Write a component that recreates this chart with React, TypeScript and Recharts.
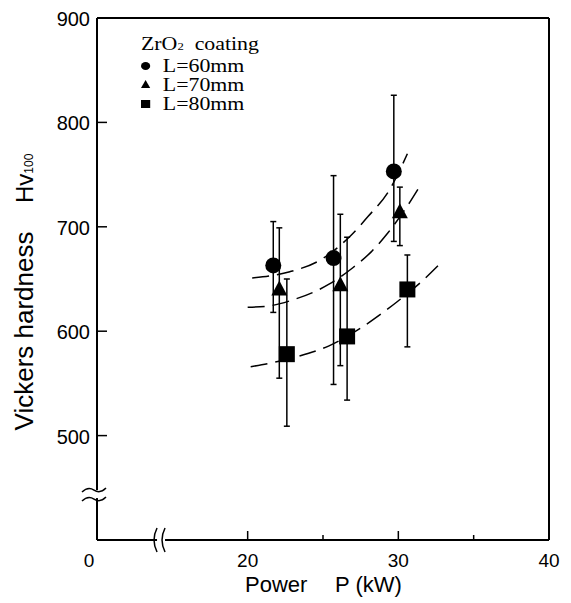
import React from 'react';
import {
  ComposedChart,
  Scatter,
  Line,
  XAxis,
  YAxis,
  ErrorBar,
  ReferenceLine,
  ReferenceDot,
} from 'recharts';

// measured points (power kW, hardness Hv100) with error bar ends
const power60 = [21.7, 25.7, 29.7];
const hv60 = [663, 670, 753];
const low60 = [618, 549, 686];
const high60 = [705, 749, 826];

const power70 = [22.1, 26.15, 30.1];
const hv70 = [640, 644, 714];
const low70 = [555, 567, 682];
const high70 = [699, 712, 738];

const power80 = [22.6, 26.6, 30.6];
const hv80 = [578, 595, 640];
const low80 = [509, 534, 585];
const high80 = [650, 690, 673];

// dashed fitted curves
const curve60X = [20.3, 21.5, 22.8, 24.8, 26.8, 28.0, 29.4, 30.6];
const curve60Y = [651, 653, 657, 668, 691, 710, 735, 770];
const curve70X = [20.0, 21.3, 23.0, 25.4, 27.0, 28.2, 29.3, 30.6, 31.3];
const curve70Y = [623, 624, 630, 645, 661, 676, 694, 720, 736];
const curve80X = [20.2, 21.7, 23.4, 25.4, 27.5, 29.9, 31.5, 33.0];
const curve80Y = [566, 570, 576, 586, 603, 628, 647, 668];

const xTicks = [10, 20, 25, 30, 35, 40];
const xTickLabels: Record<number, string> = { 10: '0', 20: '20', 30: '30', 40: '40' };
const yTicks = [500, 600, 700, 800, 900];
const legendNames = ['L=60mm', 'L=70mm', 'L=80mm'];

const toPoints = (xs: number[], ys: number[], lo: number[], hi: number[]) =>
  xs.map((x, i) => ({ x, y: ys[i], err: [ys[i] - lo[i], hi[i] - ys[i]] }));
const toCurve = (xs: number[], ys: number[]) => xs.map((x, i) => ({ x, y: ys[i] }));

const pts60 = toPoints(power60, hv60, low60, high60);
const pts70 = toPoints(power70, hv70, low70, high70);
const pts80 = toPoints(power80, hv80, low80, high80);

const SANS = '"Liberation Sans", Arial, sans-serif';
const SERIF = '"Liberation Serif", "Times New Roman", serif';

const Circle = (p: any) => <circle cx={p.cx} cy={p.cy} r={8} fill="#000" />;
const Triangle = (p: any) => (
  <path d={`M${p.cx},${p.cy - 9} L${p.cx + 8},${p.cy + 6} L${p.cx - 8},${p.cy + 6} Z`} fill="#000" />
);
const Square = (p: any) => <rect x={p.cx - 8} y={p.cy - 8} width={16} height={16} fill="#000" />;

const XTick = (props: any) => {
  const { x, y, payload } = props;
  const v = payload.value;
  const len = v === 25 || v === 35 ? 5 : 9;
  return (
    <g>
      {v !== 10 && v !== 40 && <line x1={x} y1={y} x2={x} y2={y - len} stroke="#000" strokeWidth={1.5} />}
      {xTickLabels[v] && (
        <text x={v === 10 ? x - 8 : x} y={y + 27} textAnchor="middle" fontSize={19} fontFamily={SANS} fill="#000">
          {xTickLabels[v]}
        </text>
      )}
    </g>
  );
};

const YTick = (props: any) => {
  const { x, y, payload } = props;
  return (
    <g>
      {payload.value !== 900 && <line x1={x} y1={y} x2={x + 10} y2={y} stroke="#000" strokeWidth={1.5} />}
      <text x={x - 7} y={y + 1} textAnchor="end" dominantBaseline="central" fontSize={20} fontFamily={SANS} fill="#000">
        {payload.value}
      </text>
    </g>
  );
};

const YBreak = (p: any) => (
  <g>
    <rect x={p.cx - 3} y={p.cy - 4} width={6} height={8} fill="#fff" />
    <path d={`M${p.cx - 15},${p.cy - 2} q6,-6 12,-2 t12,-2`} fill="none" stroke="#000" strokeWidth={1.5} />
    <path d={`M${p.cx - 15},${p.cy + 7} q6,-6 12,-2 t12,-2`} fill="none" stroke="#000" strokeWidth={1.5} />
  </g>
);

const XBreak = (p: any) => (
  <g>
    <rect x={p.cx - 4} y={p.cy - 3} width={8} height={6} fill="#fff" />
    <path d={`M${p.cx - 4},${p.cy - 12} q-6,12 0,24`} fill="none" stroke="#000" strokeWidth={1.5} />
    <path d={`M${p.cx + 4},${p.cy - 12} q-6,12 0,24`} fill="none" stroke="#000" strokeWidth={1.5} />
  </g>
);

const LegendBox = () => (
  <div
    style={{
      position: 'absolute',
      left: 141,
      top: 34,
      fontFamily: SERIF,
      fontSize: 19,
      lineHeight: '19px',
      color: '#000',
      transform: 'scaleX(1.15)',
      transformOrigin: 'left top',
      pointerEvents: 'none',
    }}
  >
    <div>
      ZrO<span style={{ fontSize: 11 }}>2</span>&nbsp; coating
    </div>
    {legendNames.map((t, i) => (
      <div key={t} style={{ display: 'flex', alignItems: 'center' }}>
        <svg width={19} height={12}>
          {i === 0 && <circle cx={4} cy={6} r={4} fill="#000" />}
          {i === 1 && <path d="M4,1 L8,9 L0,9 Z" fill="#000" />}
          {i === 2 && <rect x={0} y={2} width={8} height={8} fill="#000" />}
        </svg>
        {t}
      </div>
    ))}
  </div>
);

export default function App() {
  return (
    <div style={{ position: 'absolute', left: 0, top: 0, width: 571, height: 603, background: '#fff' }}>
      <ComposedChart width={571} height={603} margin={{ top: 18, right: 22, bottom: 0, left: 0 }}>
        <XAxis
          type="number"
          dataKey="x"
          domain={[10, 40]}
          ticks={xTicks}
          interval={0}
          height={63}
          tickSize={0}
          tickMargin={0}
          tickLine={false}
          tick={<XTick />}
          axisLine={{ stroke: '#000', strokeWidth: 2 }}
          label={{
            content: () => (
              <g fontFamily={SANS} fontSize={22} fill="#000">
                <text x={245} y={592}>Power</text>
                <text x={335} y={592}>P (kW)</text>
              </g>
            ),
          }}
        />
        <YAxis
          type="number"
          domain={[400, 900]}
          ticks={yTicks}
          interval={0}
          width={97}
          tickSize={0}
          tickMargin={0}
          tickLine={false}
          tick={<YTick />}
          axisLine={{ stroke: '#000', strokeWidth: 2 }}
          label={{
            content: () => (
              <g fontFamily={SANS} fill="#000">
                <text x={33} y={331} transform="rotate(-90 33 331)" textAnchor="middle" fontSize={26}>
                  Vickers hardness
                </text>
                <text x={33} y={203} transform="rotate(-90 33 203)" fontSize={24}>
                  Hv<tspan fontSize={12}>100</tspan>
                </text>
              </g>
            ),
          }}
        />
        <ReferenceLine y={900} stroke="#000" strokeWidth={2} />
        <ReferenceLine x={40} stroke="#000" strokeWidth={2} />
        <Line data={toCurve(curve60X, curve60Y)} dataKey="y" type="monotone" stroke="#000" strokeWidth={1.5} strokeDasharray="17 8" dot={false} isAnimationActive={false} />
        <Line data={toCurve(curve70X, curve70Y)} dataKey="y" type="monotone" stroke="#000" strokeWidth={1.5} strokeDasharray="17 8" dot={false} isAnimationActive={false} />
        <Line data={toCurve(curve80X, curve80Y)} dataKey="y" type="monotone" stroke="#000" strokeWidth={1.5} strokeDasharray="17 8" dot={false} isAnimationActive={false} />
        <Scatter data={pts60} dataKey="y" shape={Circle} isAnimationActive={false}>
          <ErrorBar dataKey="err" direction="y" width={3} stroke="#000" strokeWidth={1.5} />
        </Scatter>
        <Scatter data={pts70} dataKey="y" shape={Triangle} isAnimationActive={false}>
          <ErrorBar dataKey="err" direction="y" width={3} stroke="#000" strokeWidth={1.5} />
        </Scatter>
        <Scatter data={pts80} dataKey="y" shape={Square} isAnimationActive={false}>
          <ErrorBar dataKey="err" direction="y" width={3} stroke="#000" strokeWidth={1.5} />
        </Scatter>
        <ReferenceDot x={10} y={444} r={0} shape={YBreak} ifOverflow="visible" />
        <ReferenceDot x={14.25} y={400} r={0} shape={XBreak} ifOverflow="visible" />
      </ComposedChart>
      <LegendBox />
    </div>
  );
}
